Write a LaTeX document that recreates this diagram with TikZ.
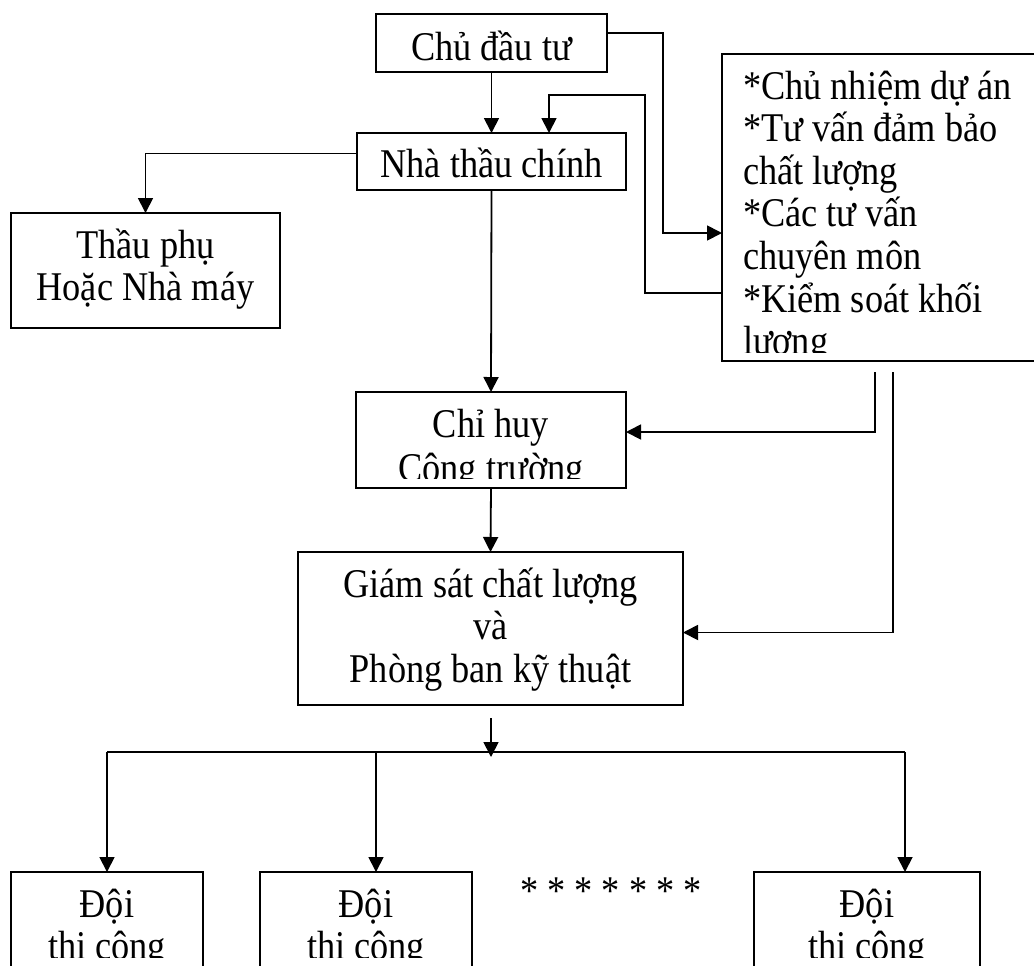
\documentclass[tikz,border=0pt]{standalone}
\usepackage{fontspec}
\setmainfont{Liberation Serif}[FakeStretch=0.89]
\usetikzlibrary{arrows.meta,calc}
\begin{document}
\begin{tikzpicture}[x=0.5pt,y=-0.5pt,
  box/.style={draw,line width=0.9pt,inner sep=0pt,outer sep=0pt},
  txt/.style={font=\fontsize{20.4pt}{24pt}\selectfont,inner sep=0pt,outer sep=0pt,anchor=base},
  ltxt/.style={txt,anchor=base west},
  conn/.style={line width=0.9pt},
  arr/.style={conn,-{Triangle[length=7.5pt,width=7.5pt]}}]
\useasboundingbox (0,0) rectangle (1034,965);

% boxes
\node[box,minimum width=115.5pt,minimum height=29pt] (cdt) at (491.5,43) {};
\node[box,minimum width=134.5pt,minimum height=28.5pt] (ntc) at (491.5,161.5) {};
\node[box,minimum width=134.5pt,minimum height=57.5pt] (tp) at (145.5,270.5) {};
\node[box,minimum width=159pt,minimum height=153.5pt] (rb) at (881,207.5) {};
\node[box,minimum width=135pt,minimum height=48pt] (ch) at (491,440) {};
\node[box,minimum width=192.5pt,minimum height=76.5pt] (gs) at (490.5,628.5) {};
\node[box,minimum width=96pt,minimum height=64pt] (d1) at (107,936) {};
\node[box,minimum width=106pt,minimum height=64pt] (d2) at (366,936) {};
\node[box,minimum width=113pt,minimum height=64pt] (d3) at (867,936) {};

% texts
\node[txt] (cdtT) at (491.5,60) {Chủ đầu tư};
\node[txt] (ntcT) at (491.5,177) {Nhà thầu chính};
\node[txt] (tpT1) at (145.5,258) {Thầu phụ};
\node[txt] (tpT2) at (145.5,300) {Hoặc Nhà máy};
\begin{scope}
  \clip (722,54) rectangle (1034,352);
  \node[ltxt] (rb1) at (743,99) {*Chủ nhiệm dự án};
  \node[ltxt] (rb2) at (743,141.6) {*Tư vấn đảm bảo};
  \node[ltxt] (rb3) at (743,184.2) {chất lượng};
  \node[ltxt] (rb4) at (743,226.8) {*Các tư vấn};
  \node[ltxt] (rb5) at (743,269.4) {chuyên môn};
  \node[ltxt] (rb6) at (743,312) {*Kiểm soát khối};
  \node[ltxt] (rb7) at (743,354.6) {lượng};
\end{scope}
\begin{scope}
  \clip (356,392) rectangle (626,478);
  \node[txt] (chT1) at (491,437) {Chỉ huy};
  \node[txt] (chT2) at (491,481) {Công trường};
\end{scope}
\node[txt] (gsT1) at (490.5,597) {Giám sát chất lượng};
\node[txt] (gsT2) at (490.5,639) {và};
\node[txt] (gsT3) at (490.5,682) {Phòng ban kỹ thuật};
\begin{scope}
  \clip (0,860) rectangle (1034,957);
  \node[txt] (d1T1) at (107,917) {Đội};
  \node[txt] (d1T2) at (107,959) {thi công};
  \node[txt] (d2T1) at (366,917) {Đội};
  \node[txt] (d2T2) at (366,959) {thi công};
  \node[txt] (d3T1) at (867,917) {Đội};
  \node[txt] (d3T2) at (867,959) {thi công};
\end{scope}
\node[txt] (stars) at (611,904) {* * * * * * *};

% coordinates
\coordinate (c1) at (663,233);
\coordinate (c2) at (645,293);
\coordinate (c3) at (549,95);
\coordinate (c5) at (875,372);
\coordinate (c6) at (893,372);
\coordinate (gsOut) at (491,718);
\coordinate (busTip) at (491,757);
\coordinate (bL) at (107,752);
\coordinate (bM) at (376,752);
\coordinate (bR) at (905,752);

% connectors
\draw[arr] (cdt.south) -- (ntc.north);
\draw[arr] ([yshift=5pt]cdt.east) -| (c1) -- (c1 -| rb.west);
\draw[arr] (c2 -| rb.west) -- (c2) |- (c3) -- (c3 |- ntc.north);
\draw[arr] ([yshift=4pt]ntc.west) -| (tp.north);
\draw[arr] (ntc.south) -- (ch.north);
\draw[arr] (c5) |- ([yshift=4pt]ch.east);
\draw[arr] (c6) |- ([yshift=-2pt]gs.east);
\draw[arr] (ch.south) -- (gs.north);
\draw[arr] (gsOut) -- (busTip);
\draw[conn] (bL) -- (bR);
\draw[arr] (bL) -- (bL |- d1.north);
\draw[arr] (bM) -- (bM |- d2.north);
\draw[arr] (bR) -- (bR |- d3.north);
\end{tikzpicture}
\end{document}
